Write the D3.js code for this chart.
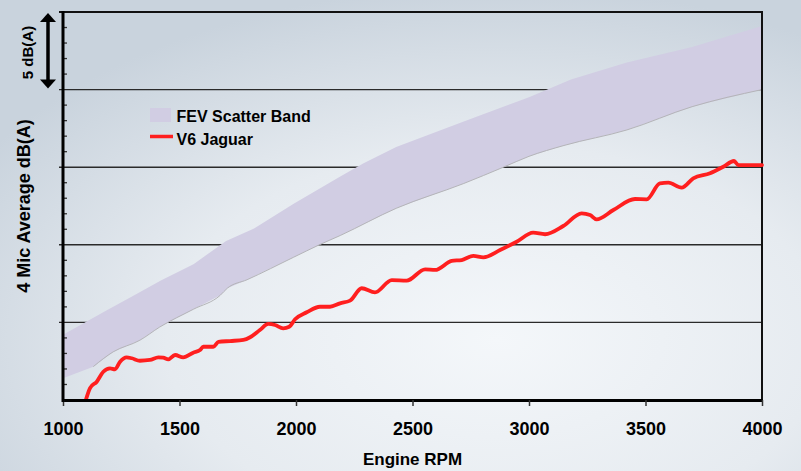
<!DOCTYPE html>
<html>
<head>
<meta charset="utf-8">
<script src="https://cdn.jsdelivr.net/npm/d3@7"></script>
<style>
  html, body { margin: 0; padding: 0; overflow: hidden; }
  svg { display: block; font-family: "Liberation Sans", Arial, sans-serif; font-weight: bold; }
</style>
</head>
<body>
<svg id="chart" width="801" height="471"></svg>
<script>
// x axis ticks (Engine RPM)
const rpmTicks = [1000, 1500, 2000, 2500, 3000, 3500, 4000];

// FEV scatter band, upper and lower edges (dB(A), relative)
const upperRpm = [1000, 1190, 1300, 1420, 1560, 1700, 1820, 1990, 2190, 2290, 2430, 2720, 3000, 3180, 3420, 3700, 4000];
const upperDb  = [4.2, 5.8, 6.7, 7.7, 8.75, 10.25, 11.05, 12.65, 14.4, 15.25, 16.3, 17.95, 19.5, 20.65, 21.75, 22.75, 24.1];
const lowerRpm = [1000, 1130, 1215, 1330, 1415, 1560, 1675, 1705, 1790, 1990, 2100, 2190, 2430, 2720, 2890, 3000, 3150, 3420, 3700, 4000];
const lowerDb  = [1.4, 2.15, 3.1, 3.85, 4.7, 5.85, 6.75, 7.2, 7.75, 9.2, 10.0, 10.6, 12.35, 13.95, 15.0, 15.7, 16.4, 17.4, 18.9, 20.0];

// V6 Jaguar measurement
const jagRpm = [1099, 1116, 1145, 1173, 1202, 1223, 1245, 1273, 1295, 1330, 1373, 1409, 1430, 1452, 1481, 1516,
  1559, 1588, 1602, 1645, 1667, 1717, 1774, 1803, 1845, 1881, 1910, 1945, 1971, 1996, 2046, 2103, 2146, 2189,
  2232, 2282, 2339, 2411, 2475, 2554, 2597, 2668, 2711, 2761, 2804, 2876, 2947, 3018, 3069, 3147, 3226, 3262,
  3290, 3362, 3455, 3505, 3562, 3598, 3655, 3705, 3777, 3834, 3880, 3898, 4000];
const jagDb = [0.05, 0.77, 1.18, 1.82, 2.04, 1.98, 2.47, 2.75, 2.69, 2.53, 2.58, 2.75, 2.73, 2.62, 2.9, 2.75,
  3.05, 3.22, 3.43, 3.43, 3.74, 3.8, 3.87, 4.04, 4.51, 4.9, 4.83, 4.62, 4.72, 5.2, 5.65, 6.01, 6.01, 6.23,
  6.4, 7.2, 6.94, 7.73, 7.69, 8.42, 8.38, 8.96, 9.02, 9.28, 9.19, 9.66, 10.2, 10.78, 10.68, 11.21, 12.03, 11.92,
  11.64, 12.24, 12.95, 12.93, 13.96, 14.0, 13.68, 14.28, 14.61, 15.03, 15.4, 15.14, 15.14];

const legendLabels = ["FEV Scatter Band", "V6 Jaguar"];
const bandColor = "#d1cde3";
const jagColor = "#ff1f1f";

const W = 801, H = 471;
const mLeft = 63, mRight = 762, mTop = 12, mBottom = 400;

const svg = d3.select("#chart");

// background
const defs = svg.append("defs");
const bg = defs.append("radialGradient").attr("id", "bg")
  .attr("cx", "62%").attr("cy", "72%").attr("r", "75%");
bg.append("stop").attr("offset", "0%").attr("stop-color", "#f4f7fa");
bg.append("stop").attr("offset", "55%").attr("stop-color", "#e6ebf0");
bg.append("stop").attr("offset", "100%").attr("stop-color", "#c9d3dd");
svg.append("rect").attr("width", W).attr("height", H).attr("fill", "url(#bg)");

const x = d3.scaleLinear().domain([1000, 4000]).range([mLeft, mRight]);
const y = d3.scaleLinear().domain([0, 25]).range([mBottom, mTop]);

// major grid lines
svg.append("g")
  .selectAll("line")
  .data(y.ticks(5).filter(d => d > 0 && d < 25))
  .join("line")
  .attr("x1", mLeft - 4).attr("x2", mRight)
  .attr("y1", d => y(d)).attr("y2", d => y(d))
  .attr("stroke", "#2a2a2a").attr("stroke-width", 1.4);

// scatter band
const bandPts = upperRpm.map((r, i) => [x(r), y(upperDb[i])])
  .concat(lowerRpm.map((r, i) => [x(r), y(lowerDb[i])]).reverse());
svg.append("path")
  .attr("d", d3.line().curve(d3.curveLinearClosed)(bandPts))
  .attr("fill", bandColor);

svg.append("path")
  .attr("d", d3.line().curve(d3.curveMonotoneX)(lowerRpm.map((r, i) => [x(r), y(lowerDb[i])]).slice(1)))
  .attr("fill", "none")
  .attr("stroke", "#b4b4b8")
  .attr("stroke-width", 1);

// frame: top and right
svg.append("line").attr("x1", mLeft - 4).attr("x2", mRight + 1).attr("y1", mTop).attr("y2", mTop)
  .attr("stroke", "#111").attr("stroke-width", 2);
svg.append("line").attr("x1", mRight).attr("x2", mRight).attr("y1", mTop).attr("y2", mBottom)
  .attr("stroke", "#111").attr("stroke-width", 2);

// minor ticks on the y axis
svg.append("g")
  .selectAll("line")
  .data(y.ticks(25).filter(d => d % 5 !== 0))
  .join("line")
  .attr("x1", mLeft).attr("x2", mLeft + 4)
  .attr("y1", d => y(d)).attr("y2", d => y(d))
  .attr("stroke", "#333").attr("stroke-width", 1.3);

// V6 Jaguar line
svg.append("path")
  .datum(jagRpm.map((r, i) => [r, jagDb[i]]))
  .attr("d", d3.line().x(d => x(d[0])).y(d => y(d[1])).curve(d3.curveMonotoneX))
  .attr("fill", "none")
  .attr("stroke", jagColor)
  .attr("stroke-width", 3.8)
  .attr("stroke-linejoin", "round")
  .attr("stroke-linecap", "round");

// x axis
const xAxis = svg.append("g")
  .attr("transform", `translate(0,${mBottom})`)
  .call(d3.axisBottom(x).tickValues(rpmTicks).tickFormat(d3.format("d")).tickSize(6).tickSizeOuter(0).tickPadding(16));
xAxis.select(".domain").attr("stroke", "#000").attr("stroke-width", 3);
xAxis.selectAll(".tick line").attr("stroke", "#333").attr("stroke-width", 1.5);
xAxis.selectAll(".tick text")
  .attr("fill", "#000")
  .style("font-family", '"Liberation Sans", Arial, sans-serif')
  .style("font-weight", "bold")
  .style("font-size", "18px");

// y axis line
svg.append("line").attr("x1", mLeft).attr("x2", mLeft).attr("y1", mTop - 1).attr("y2", mBottom + 2)
  .attr("stroke", "#000").attr("stroke-width", 3);

// axis titles
svg.append("text")
  .attr("x", (mLeft + mRight) / 2).attr("y", 465)
  .attr("text-anchor", "middle")
  .style("font-size", "17px")
  .text("Engine RPM");

svg.append("text")
  .attr("transform", "translate(29.5,206) rotate(-90)")
  .attr("text-anchor", "middle")
  .style("font-size", "18px")
  .text("4 Mic Average dB(A)");

// 5 dB(A) scale marker
svg.append("text")
  .attr("transform", "translate(32.5,52.5) rotate(-90)")
  .attr("text-anchor", "middle")
  .style("font-size", "15px")
  .text("5 dB(A)");

const ax = 48;
svg.append("line").attr("x1", ax).attr("x2", ax).attr("y1", y(25) + 8).attr("y2", y(20) - 8)
  .attr("stroke", "#000").attr("stroke-width", 3.5);
svg.append("path")
  .attr("d", `M${ax},${y(25) + 1}L${ax - 8},${y(25) + 10}L${ax + 8},${y(25) + 10}Z`)
  .attr("fill", "#000");
svg.append("path")
  .attr("d", `M${ax},${y(20) - 1}L${ax - 8},${y(20) - 10}L${ax + 8},${y(20) - 10}Z`)
  .attr("fill", "#000");

// legend
const lg = svg.append("g").attr("transform", "translate(150,108)");
lg.append("rect").attr("x", 0).attr("y", 0).attr("width", 21).attr("height", 14).attr("fill", bandColor);
lg.append("line").attr("x1", 0).attr("x2", 23).attr("y1", 28.5).attr("y2", 28.5)
  .attr("stroke", jagColor).attr("stroke-width", 3.5);
lg.selectAll("text")
  .data(legendLabels)
  .join("text")
  .attr("x", 26.5)
  .attr("y", (d, i) => 14 + i * 22.5)
  .style("font-size", "16px")
  .attr("fill", "#000")
  .text(d => d);
</script>
</body>
</html>
